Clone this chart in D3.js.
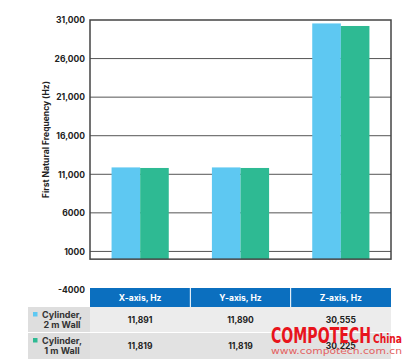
<!DOCTYPE html>
<html><head><meta charset="utf-8">
<script src="https://cdn.jsdelivr.net/npm/d3@7"></script>
<style>
body{margin:0;background:#fff;}
svg{display:block;font-family:Inter,"Noto Sans",sans-serif;}
</style></head>
<body>
<svg id="c" width="410" height="362"></svg>
<script>
const categories = ["X-axis, Hz", "Y-axis, Hz", "Z-axis, Hz"];
const seriesNames = ["Cylinder, 2 m Wall", "Cylinder, 1 m Wall"];
const seriesLabelLines = [["Cylinder,", "2 m Wall"], ["Cylinder,", "1 m Wall"]];
const wall2m = [11891, 11890, 30555];
const wall1m = [11819, 11819, 30225];
const tickValues = [-4000, 1000, 6000, 11000, 16000, 21000, 26000, 31000];
const tickLabels = ["-4000", "1000", "6000", "11,000", "16,000", "21,000", "26,000", "31,000"];
const colors = ["#5ec8f2", "#2eba93"];
const series = [wall2m, wall1m];

(function(){
const svg = d3.select("#c");
const pL = 90, pR = 391, pT = 20, axisBottom = 290;
const y = d3.scaleLinear().domain([-4000, 31000]).range([axisBottom, pT]);
const x = d3.scaleBand().domain(categories).range([pL, pR]).paddingInner(0.43).paddingOuter(0.215);
const xs = d3.scaleBand().domain(d3.range(series.length)).range([0, x.bandwidth()]);
const frameBottom = y(0);

// gridlines
svg.append("g").selectAll("line").data(tickValues.filter(v => v > 0 && v < 31000)).join("line")
  .attr("x1", pL).attr("x2", pR)
  .attr("y1", d => y(d)).attr("y2", d => y(d))
  .attr("stroke", "#555").attr("stroke-width", 1);

// bars
categories.forEach((c, i) => {
  svg.append("g").selectAll("rect").data(series.map((s, k) => ({k, v: s[i]}))).join("rect")
    .attr("x", d => x(c) + xs(d.k))
    .attr("width", xs.bandwidth())
    .attr("y", d => y(d.v))
    .attr("height", d => frameBottom - y(d.v))
    .attr("fill", d => colors[d.k]);
});

// frame
svg.append("rect").attr("x", pL).attr("y", y(31000)).attr("width", pR - pL)
  .attr("height", frameBottom - y(31000)).attr("fill", "none").attr("stroke", "#444").attr("stroke-width", 1.5);

// y axis labels
const yAxis = d3.axisLeft(y).tickValues(tickValues).tickSize(0).tickPadding(5)
  .tickFormat((d, i) => tickLabels[i]);
const ga = svg.append("g").attr("transform", `translate(${pL},0)`).call(yAxis);
ga.select(".domain").remove();
ga.selectAll("text").attr("font-size", 8.5).attr("font-weight", 700).attr("fill", "#222")
  .attr("font-family", "Inter, sans-serif");

svg.append("text").attr("transform", `translate(49,${(y(31000)+frameBottom)/2}) rotate(-90)`)
  .attr("text-anchor", "middle").attr("font-size", 8.5).attr("font-weight", 700).attr("fill", "#222")
  .text("First Natural Frequency (Hz)");

// table
const tTop = 288, hH = 19, rH = 26;
const colX = d3.scaleBand().domain(categories).range([pL, pR]);
const fmt = d3.format(",");
svg.append("g").selectAll("rect").data(categories).join("rect")
  .attr("x", d => colX(d)).attr("y", tTop).attr("width", colX.bandwidth()).attr("height", hH)
  .attr("fill", "#0b6fbf");
svg.append("g").selectAll("line").data(categories.slice(1)).join("line")
  .attr("x1", d => colX(d)).attr("x2", d => colX(d)).attr("y1", tTop).attr("y2", tTop + hH)
  .attr("stroke", "#fff").attr("stroke-width", 1);
svg.append("g").selectAll("text").data(categories).join("text")
  .attr("x", d => colX(d) + colX.bandwidth() / 2).attr("y", tTop + hH / 2 + 3.2)
  .attr("text-anchor", "middle").attr("font-size", 8.5).attr("font-weight", 700).attr("fill", "#fff")
  .text(d => d);

const rowFill = ["#ececec", "#e2e2e2"];
series.forEach((s, r) => {
  const ry = tTop + hH + r * rH;
  const h = rH - (r === 0 ? 1 : 0);
  svg.append("rect").attr("x", 28).attr("y", ry).attr("width", pR - 28).attr("height", h)
    .attr("fill", rowFill[r]);
  svg.append("rect").attr("x", 28).attr("y", ry).attr("width", pL - 28).attr("height", h)
    .attr("fill", "#dedede");
  svg.append("rect").attr("x", 33).attr("y", ry + 5).attr("width", 4.5).attr("height", 4.5).attr("fill", colors[r]);
  svg.append("text").attr("x", 62).attr("y", ry + 11).attr("text-anchor", "middle")
    .attr("font-size", 9).attr("font-weight", 700).attr("fill", "#333")
    .selectAll("tspan").data(seriesLabelLines[r]).join("tspan")
    .attr("x", 62).attr("dy", (d, i) => i ? 10 : 0).text(d => d);
  svg.append("g").selectAll("text").data(categories).join("text")
    .attr("x", d => colX(d) + colX.bandwidth() / 2).attr("y", ry + rH / 2 + 3)
    .attr("text-anchor", "middle").attr("font-size", 8.5).attr("font-weight", 700).attr("fill", "#222")
    .text((d, i) => fmt(s[i]));
});

// watermark
svg.append("text").attr("x", 271).attr("y", 343).attr("font-family", "'Liberation Sans Narrow','DejaVu Sans Condensed',sans-serif")
  .attr("font-size", 22).attr("font-weight", 700).attr("fill", "#e8141c").attr("textLength", 100)
  .attr("lengthAdjust", "spacingAndGlyphs").text("COMPOTECH");
svg.append("text").attr("x", 373).attr("y", 343).attr("font-size", 12).attr("font-weight", 700)
  .attr("font-family", "'Liberation Sans Narrow','DejaVu Sans Condensed',sans-serif")
  .attr("fill", "#e8141c").attr("textLength", 29).attr("lengthAdjust", "spacingAndGlyphs").text("China");
svg.append("text").attr("x", 271).attr("y", 354).attr("font-size", 9).attr("font-family", "'DejaVu Sans',sans-serif")
  .attr("fill", "#e46060").attr("textLength", 131).attr("lengthAdjust", "spacingAndGlyphs").text("www.compotech.com.cn");
})();
</script>
</body></html>
